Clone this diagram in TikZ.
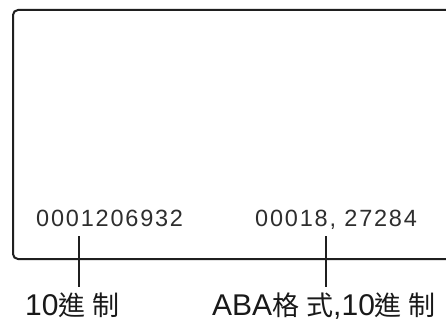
\documentclass[tikz,border=0pt]{standalone}
\usepackage{fontspec}
\setmainfont{Liberation Sans}
\newfontfamily\cjk{Noto Sans CJK TC}
\makeatletter
\newcommand\lspaced[1]{\@tfor\lsp@c:=#1\do{\lsp@c\kern1.8pt}\unkern}
\makeatother
\newcommand\cjkl{\cjk\fontsize{27pt}{30pt}\selectfont}
\tikzset{
  card/.style={draw=black!88, line width=2pt, rounded corners=5pt},
  tick/.style={draw=black!88, line width=2pt},
  numtext/.style={inner sep=0pt, anchor=base west, text=black!82, font=\fontsize{23.5pt}{26pt}\selectfont},
  labtext/.style={inner sep=0pt, anchor=base west, text depth=0pt, text=black!90, font=\fontsize{30pt}{34pt}\selectfont},
}
\begin{document}
\begin{tikzpicture}[x=1pt,y=-1pt]
\useasboundingbox (0,0) rectangle (446,320);
\fill[white] (0,0) rectangle (446,320);
\draw[card] (13,10) rectangle (470,259);
\node[numtext] (n1) at (36,226) {\lspaced{0001206932}};
\node[numtext] (n2) at (255,226) {\lspaced{00018,}\kern1.8pt\ \lspaced{27284}};
\coordinate (t1a) at (79,236);
\coordinate (t1b) at (79,287);
\coordinate (t2a) at (326,236);
\coordinate (t2b) at (326,287);
\draw[tick] (t1a) -- (t1b);
\draw[tick] (t2a) -- (t2b);
\node[labtext] (l1) at (25,315) {10{\cjkl 進\hspace{7pt}制}};
\node[labtext] (l2) at (212,315) {ABA{\cjkl 格\hspace{7pt}式},10{\cjkl 進\hspace{7pt}制}};
\end{tikzpicture}
\end{document}
